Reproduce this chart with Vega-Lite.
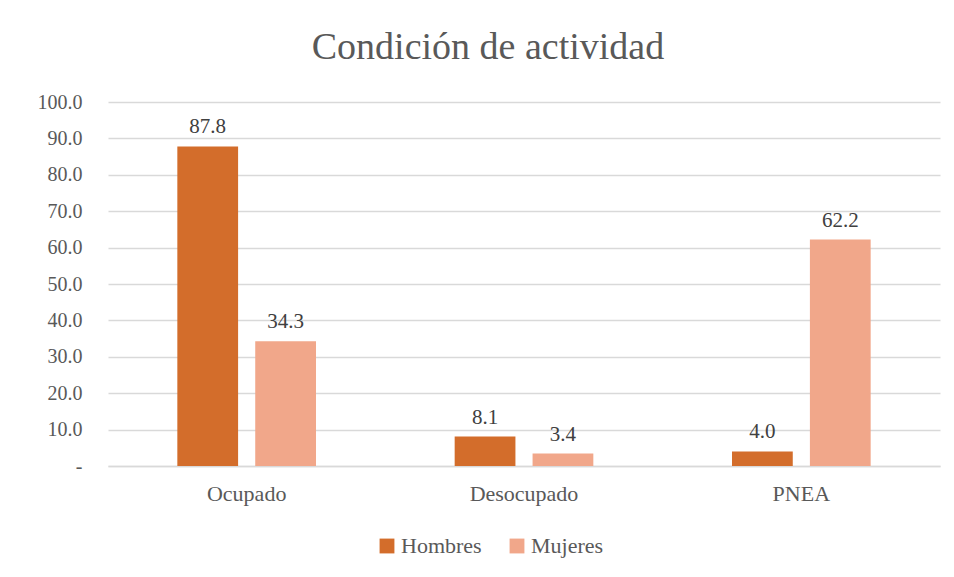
{
  "$schema": "https://vega.github.io/schema/vega-lite/v6.json",
  "width": 832,
  "height": 364,
  "autosize": {"type": "none"},
  "padding": {"left": 108, "top": 102, "right": 14, "bottom": 111},
  "background": "white",
  "title": {
    "text": "Condición de actividad",
    "font": "Liberation Serif",
    "fontSize": 38,
    "fontWeight": "normal",
    "color": "#595959",
    "anchor": "middle",
    "dx": -36,
    "offset": 25
  },
  "data": {
    "values": [
      {"cat": "Ocupado", "sexo": "Hombres", "v": 87.8},
      {"cat": "Ocupado", "sexo": "Mujeres", "v": 34.3},
      {"cat": "Desocupado", "sexo": "Hombres", "v": 8.1},
      {"cat": "Desocupado", "sexo": "Mujeres", "v": 3.4},
      {"cat": "PNEA", "sexo": "Hombres", "v": 4.0},
      {"cat": "PNEA", "sexo": "Mujeres", "v": 62.2}
    ]
  },
  "encoding": {
    "x": {
      "field": "cat", "type": "nominal", "sort": ["Ocupado", "Desocupado", "PNEA"],
      "scale": {"paddingInner": 0.5, "paddingOuter": 0.25},
      "axis": {"title": null, "labelAngle": 0, "ticks": false, "domainColor": "#d9d9d9", "domainWidth": 1.5, "labelPadding": 17, "labelFontSize": 22, "labelFont": "Liberation Serif", "labelColor": "#595959"}
    },
    "xOffset": {"field": "sexo", "type": "nominal", "scale": {"paddingInner": 0.22, "paddingOuter": 0}},
    "y": {
      "field": "v", "type": "quantitative",
      "scale": {"domain": [0, 100]},
      "axis": {"title": null, "values": [0,10,20,30,40,50,60,70,80,90,100], "labelOverlap": false, "domain": false, "ticks": false, "labelPadding": 26, "labelFontSize": 20, "labelFont": "Liberation Serif", "labelColor": "#595959", "gridColor": "#d9d9d9", "gridWidth": 1.5, "labelExpr": "datum.value == 0 ? '-' : format(datum.value, '.1f')"}
    }
  },
  "layer": [
    {
      "mark": {"type": "bar"},
      "encoding": {
        "color": {
          "field": "sexo", "type": "nominal",
          "scale": {"domain": ["Hombres", "Mujeres"], "range": ["#D36D2B", "#F1A78A"]},
          "legend": {"title": null, "orient": "none", "direction": "horizontal", "legendX": 268, "legendY": 433, "symbolType": "square", "symbolSize": 220, "symbolStrokeWidth": 0, "labelFontSize": 22, "labelFont": "Liberation Serif", "labelColor": "#595959", "columnPadding": 24, "labelOffset": 3}
        }
      }
    },
    {
      "mark": {"type": "text", "baseline": "bottom", "dy": -9, "font": "Liberation Serif", "fontSize": 21, "color": "#404040"},
      "encoding": {"text": {"field": "v", "type": "quantitative", "format": ".1f"}}
    }
  ],
  "config": {"view": {"stroke": null}}
}
